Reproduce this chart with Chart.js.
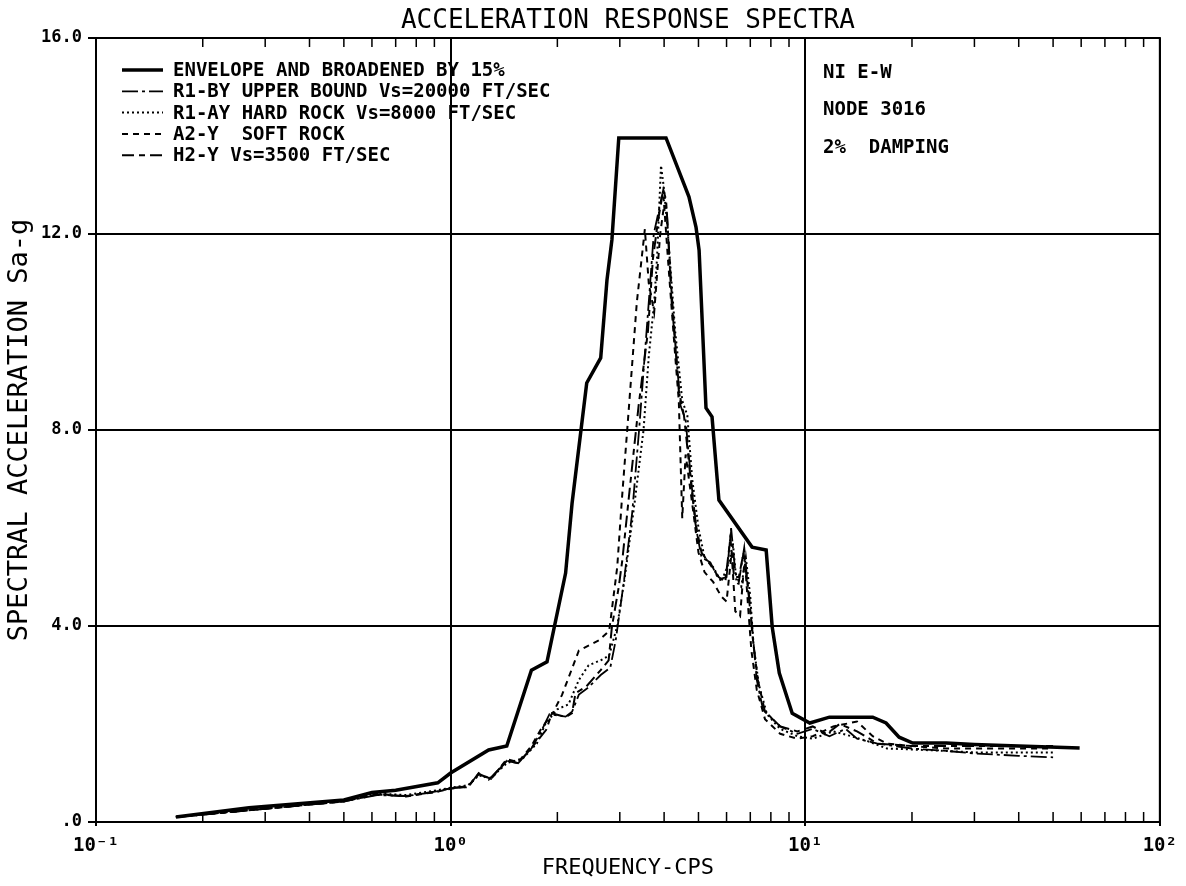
<!DOCTYPE html>
<html>
<head>
<meta charset="utf-8">
<title>Acceleration Response Spectra</title>
<script src="https://cdn.jsdelivr.net/npm/chart.js@4.4.1/dist/chart.umd.min.js"></script>
<style>
  html, body { margin: 0; background: #fff; }
</style>
</head>
<body>
<canvas id="spectra" width="1186" height="886"></canvas>
<script>
// Acceleration response spectra, node 3016, NI E-W, 2% damping
const MONO = '"DejaVu Sans Mono", monospace';

const chartTitle = 'ACCELERATION RESPONSE SPECTRA';
const notes = ['NI E-W', 'NODE 3016', '2%  DAMPING'];

const seriesLabels = [
  'ENVELOPE AND BROADENED BY 15%',
  'R1-BY UPPER BOUND Vs=20000 FT/SEC',
  'R1-AY HARD ROCK Vs=8000 FT/SEC',
  'A2-Y  SOFT ROCK',
  'H2-Y Vs=3500 FT/SEC',
];

// x tick labels (decades) and y tick values
const decadeTicks = [0.1, 1, 10, 100];
const decadeLabels = ['10\u207B\u00B9', '10\u2070', '10\u00B9', '10\u00B2'];
const saTicks = [0, 4, 8, 12, 16];

// envelope (broadened 15%)
const envFreq = [0.168, 0.27, 0.5, 0.6, 0.7, 0.92, 1.0, 1.28, 1.44, 1.69, 1.87, 2.11, 2.2, 2.42, 2.65, 2.76, 2.85, 2.98,
  4.05, 4.7, 4.92, 5.02, 5.25, 5.46, 5.71, 7.08, 7.76, 8.07, 8.45, 9.19, 10.3, 11.7, 15.5, 16.9, 18.4, 20.1, 25, 30, 40, 59.4];
const envSa = [0.1, 0.29, 0.45, 0.6, 0.65, 0.8, 1.0, 1.47, 1.55, 3.1, 3.27, 5.08, 6.5, 8.96, 9.47, 11.06, 11.88, 13.96,
  13.96, 12.76, 12.14, 11.67, 8.45, 8.27, 6.57, 5.61, 5.55, 3.98, 3.04, 2.22, 2.02, 2.14, 2.14, 2.02, 1.73, 1.61, 1.61, 1.58, 1.55, 1.51];

// R1-BY upper bound
const r1byFreq = [0.168, 0.3, 0.5, 0.62, 0.75, 0.92, 1.0, 1.12, 1.2, 1.28, 1.44, 1.55, 1.69, 1.8, 1.9, 2.11, 2.2, 2.3, 2.45,
  2.65, 2.82, 2.92, 3.08, 3.25, 3.4, 3.62, 3.74, 3.95, 4.07, 4.2, 4.45, 4.6, 4.76, 4.95, 5.1, 5.4, 5.7, 6.0, 6.18, 6.35,
  6.5, 6.73, 6.95, 7.1, 7.3, 7.6, 8.5, 9.5, 10.5, 11.7, 13, 14, 16, 20, 25, 30, 40, 50];
const r1bySa = [0.1, 0.27, 0.42, 0.55, 0.53, 0.62, 0.69, 0.71, 1.0, 0.86, 1.25, 1.2, 1.5, 1.85, 2.2, 2.15, 2.25, 2.6, 2.75,
  3.0, 3.15, 3.7, 4.9, 6.3, 8.0, 10.6, 12.0, 12.8, 12.5, 10.6, 8.5, 8.2, 7.0, 5.9, 5.4, 5.3, 4.95, 5.0, 6.0, 5.1,
  4.9, 5.6, 4.5, 3.9, 2.9, 2.3, 1.95, 1.8, 1.9, 1.75, 1.9, 1.7, 1.6, 1.5, 1.45, 1.4, 1.35, 1.32];

// R1-AY hard rock
const r1ayFreq = [0.168, 0.3, 0.5, 0.62, 0.75, 0.92, 1.0, 1.12, 1.2, 1.3, 1.44, 1.6, 1.75, 1.85, 2.0, 2.15, 2.3, 2.45,
  2.65, 2.8, 2.95, 3.1, 3.3, 3.5, 3.62, 3.75, 3.82, 3.92, 4.0, 4.1, 4.3, 4.5, 4.65, 4.8, 5.0, 5.2, 5.5, 5.8, 6.1, 6.25,
  6.4, 6.6, 6.8, 7.0, 7.15, 7.4, 7.8, 8.5, 9.5, 10.5, 12, 13.5, 15, 17, 20, 25, 30, 40, 50];
const r1aySa = [0.1, 0.28, 0.44, 0.58, 0.55, 0.65, 0.7, 0.75, 0.95, 0.9, 1.2, 1.3, 1.6, 2.0, 2.3, 2.4, 2.9, 3.2,
  3.3, 3.4, 4.0, 5.0, 6.5, 8.0, 9.5, 10.6, 11.5, 13.4, 12.9, 12.0, 10.0, 8.6, 8.3, 7.0, 6.0, 5.4, 5.2, 4.9, 5.3, 5.7,
  4.9, 4.8, 5.4, 4.6, 3.6, 2.8, 2.2, 1.9, 1.75, 1.7, 1.85, 1.75, 1.65, 1.5, 1.48, 1.45, 1.42, 1.42, 1.42];

// A2-Y soft rock
const a2yFreq = [0.168, 0.3, 0.5, 0.62, 0.75, 0.92, 1.0, 1.12, 1.2, 1.3, 1.44, 1.55, 1.69, 1.8, 1.95, 2.06, 2.3, 2.62,
  2.8, 2.95, 3.04, 3.14, 3.35, 3.53, 3.62, 3.75, 3.9, 4.0, 4.1, 4.3, 4.4, 4.5, 4.6, 4.8, 5.0, 5.2, 5.5, 5.8, 6.0, 6.2,
  6.35, 6.55, 6.75, 6.9, 7.05, 7.3, 7.7, 8.5, 9.5, 10.5, 12, 14, 15.5, 17, 20, 25, 30, 40, 50];
const a2ySa = [0.1, 0.27, 0.42, 0.58, 0.52, 0.62, 0.68, 0.72, 0.98, 0.88, 1.28, 1.22, 1.55, 1.9, 2.25, 2.59, 3.5, 3.71,
  3.9, 5.2, 6.57, 7.9, 10.6, 12.1, 11.0, 10.4, 12.0, 12.6, 11.5, 9.5, 8.6, 6.2, 7.5, 6.5, 5.5, 5.1, 4.9, 4.6, 4.5, 5.5,
  4.3, 4.2, 5.4, 4.4, 3.5, 2.7, 2.1, 1.8, 1.7, 1.75, 1.95, 2.05, 1.75, 1.6, 1.55, 1.5, 1.5, 1.5, 1.5];

// H2-Y Vs=3500
const h2yFreq = [0.168, 0.3, 0.5, 0.62, 0.75, 0.92, 1.0, 1.12, 1.2, 1.3, 1.44, 1.55, 1.69, 1.86, 1.93, 2.11, 2.2, 2.25,
  2.41, 2.65, 2.79, 2.85, 2.98, 3.05, 3.2, 3.39, 3.6, 3.72, 3.85, 3.98, 4.05, 4.2, 4.4, 4.55, 4.72, 4.9, 5.1, 5.4, 5.7,
  5.95, 6.15, 6.3, 6.5, 6.7, 6.95, 7.1, 7.35, 7.7, 8.5, 9.5, 10.5, 11.5, 12.5, 14, 16, 20, 25, 30, 40, 50];
const h2ySa = [0.1, 0.27, 0.42, 0.56, 0.53, 0.63, 0.69, 0.73, 0.98, 0.88, 1.25, 1.2, 1.51, 1.88, 2.22, 2.14, 2.22, 2.63,
  2.76, 3.1, 3.3, 3.98, 4.8, 5.35, 6.8, 8.5, 10.0, 11.5, 12.3, 12.9, 12.7, 10.8, 8.8, 8.3, 7.2, 6.1, 5.5, 5.25, 5.0,
  4.9, 5.8, 5.0, 5.0, 5.5, 4.6, 3.8, 2.9, 2.25, 1.95, 1.85, 1.95, 1.8, 2.0, 1.85, 1.6, 1.55, 1.55, 1.55, 1.55, 1.55];

const seriesFreq = [envFreq, r1byFreq, r1ayFreq, a2yFreq, h2yFreq];
const seriesSa = [envSa, r1bySa, r1aySa, a2ySa, h2ySa];
const seriesDash = [[], [16, 4, 3, 4], [2, 3], [6, 5], [12, 5, 6, 5]];
const seriesWidth = [3.5, 1.8, 2, 2, 2];

// minor tick positions inside the log axis (2..9 of each decade)
const minorTicks = [];
[0.1, 1, 10].forEach((d) => {
  for (let k = 2; k <= 9; k++) minorTicks.push(d * k);
});

const datasets = seriesLabels.map((label, i) => ({
  label,
  data: seriesFreq[i].map((f, j) => ({ x: f, y: seriesSa[i][j] })),
  showLine: true,
  borderColor: '#000',
  backgroundColor: '#000',
  borderWidth: seriesWidth[i],
  borderDash: seriesDash[i],
  pointRadius: 0,
  tension: 0,
}));

// Plot frame, inner minor ticks, title, legend and notes
const plotterDecor = {
  id: 'plotterDecor',
  afterDraw(chart) {
    const { ctx, chartArea: a, scales } = chart;
    const x = scales.x;
    ctx.save();
    ctx.strokeStyle = '#000';
    ctx.fillStyle = '#000';
    ctx.lineWidth = 2;
    ctx.beginPath();
    ctx.moveTo(a.left, a.top);
    ctx.lineTo(a.right, a.top);
    ctx.lineTo(a.right, a.bottom);
    ctx.stroke();

    ctx.lineWidth = 1.5;
    minorTicks.forEach((v) => {
      const px = x.getPixelForValue(v);
      ctx.beginPath();
      ctx.moveTo(px, a.bottom);
      ctx.lineTo(px, a.bottom - 10);
      ctx.moveTo(px, a.top);
      ctx.lineTo(px, a.top + 9);
      ctx.stroke();
    });

    ctx.textBaseline = 'middle';
    ctx.textAlign = 'center';
    ctx.font = `26px ${MONO}`;
    ctx.fillText(chartTitle, (a.left + a.right) / 2, 21);

    ctx.textAlign = 'left';
    ctx.font = `bold 19px ${MONO}`;
    chart.data.datasets.forEach((ds, i) => {
      const y = 70 + i * 21.3;
      ctx.lineWidth = ds.borderWidth;
      ctx.setLineDash(ds.borderDash);
      ctx.beginPath();
      ctx.moveTo(122, y);
      ctx.lineTo(163, y);
      ctx.stroke();
      ctx.setLineDash([]);
      ctx.fillText(ds.label, 173, y + 1);
    });

    notes.forEach((t, i) => ctx.fillText(t, 823, 73 + i * 37.5));
    ctx.restore();
  },
};

new Chart(document.getElementById('spectra').getContext('2d'), {
  type: 'scatter',
  data: { datasets },
  options: {
    responsive: false,
    animation: false,
    layout: { padding: { left: 0, right: 26, top: 38, bottom: 0 } },
    plugins: {
      legend: { display: false },
      tooltip: { enabled: false },
    },
    scales: {
      x: {
        type: 'logarithmic',
        min: 0.1,
        max: 100,
        afterBuildTicks: (s) => { s.ticks = decadeTicks.map((v) => ({ value: v })); },
        afterFit: (s) => { s.height = 64; },
        ticks: {
          color: '#000',
          font: { family: MONO, size: 19, weight: 'bold' },
          padding: 9,
          maxRotation: 0,
          autoSkip: false,
          callback: (v) => {
            const i = decadeTicks.findIndex((d) => Math.abs(d - v) < d * 1e-6);
            return i > -1 ? decadeLabels[i] : '';
          },
        },
        grid: { color: '#000', lineWidth: 2, tickLength: 4 },
        border: { display: true, color: '#000', width: 2 },
        title: {
          display: true,
          text: 'FREQUENCY-CPS',
          color: '#000',
          font: { family: MONO, size: 22 },
          padding: { top: 0, bottom: 5 },
        },
      },
      y: {
        min: 0,
        max: 16,
        afterBuildTicks: (s) => { s.ticks = saTicks.map((v) => ({ value: v })); },
        afterFit: (s) => { s.width = 96; },
        ticks: {
          color: '#000',
          font: { family: MONO, size: 17, weight: 'bold' },
          padding: 6,
          callback: (v) => (v === 0 ? '.0' : Number(v).toFixed(1)),
        },
        grid: { color: '#000', lineWidth: 2, tickLength: 8 },
        border: { display: true, color: '#000', width: 2 },
        title: {
          display: true,
          text: 'SPECTRAL ACCELERATION Sa-g',
          color: '#000',
          font: { family: MONO, size: 27 },
          padding: { top: 4, bottom: 0 },
        },
      },
    },
  },
  plugins: [plotterDecor],
});
</script>
</body>
</html>
